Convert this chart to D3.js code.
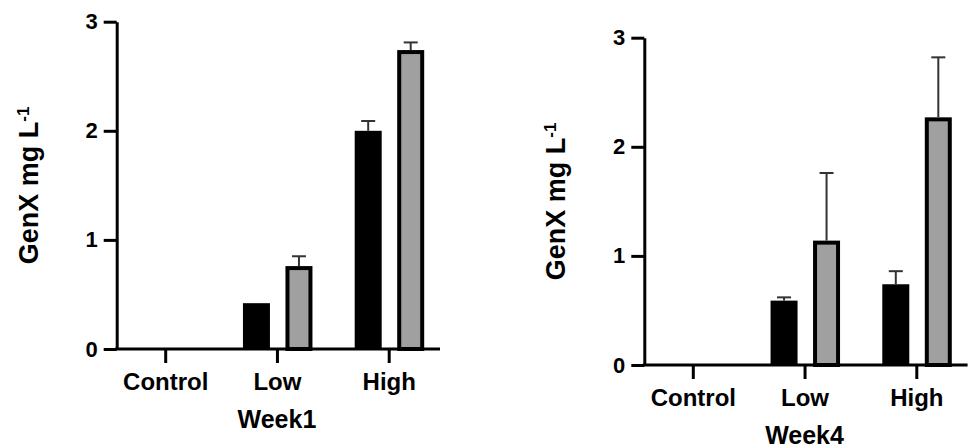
<!DOCTYPE html>
<html>
<head>
<meta charset="utf-8">
<script src="https://cdn.jsdelivr.net/npm/d3@7"></script>
<style>
  body { margin: 0; background: #fff; }
  text { font-family: "Liberation Sans", Arial, sans-serif; font-weight: bold; fill: #000; }
</style>
</head>
<body>
<svg id="chart" width="969" height="446"></svg>
<script>
var categories = ["Control", "Low", "High"];
var series = ["black", "gray"];
var yTicks = [0, 1, 2, 3];

var week1Black = [0, 0.42, 2.00];
var week1BlackErr = [0, 0, 0.09];
var week1Gray = [0, 0.76, 2.74];
var week1GrayErr = [0, 0.09, 0.07];

var week4Black = [0, 0.59, 0.74];
var week4BlackErr = [0, 0.03, 0.12];
var week4Gray = [0, 1.14, 2.27];
var week4GrayErr = [0, 0.62, 0.55];

var svg = d3.select("#chart");

var drawPanel = function(left, top, title, black, blackErr, gray, grayErr) {
  var h = 327.3, w = 323.3;

  var g = svg.append("g").attr("transform", "translate(" + left + "," + top + ")");

  var y = d3.scaleLinear().domain([0, 3]).range([h, 0]);
  var x = d3.scalePoint().domain(categories).range([48.5, 272]);
  var xs = d3.scaleBand().domain(series).range([-34, 35.5]).paddingInner(0.365);

  var rows = [];
  categories.forEach(function(c, i) {
    rows.push({ cat: c, s: "black", v: black[i], e: blackErr[i] });
    rows.push({ cat: c, s: "gray", v: gray[i], e: grayErr[i] });
  });
  rows = rows.filter(function(d) { return d.v > 0; });

  var bw = xs.bandwidth();

  // bars
  g.selectAll("rect.bar")
    .data(rows)
    .enter()
      .append("rect")
      .attr("class", "bar")
      .attr("x", function(d) { return x(d.cat) + xs(d.s) + (d.s === "gray" ? 2 : 0); })
      .attr("width", function(d) { return d.s === "gray" ? bw - 4 : bw; })
      .attr("y", function(d) { return y(d.v) + (d.s === "gray" ? 2 : 0); })
      .attr("height", function(d) { return h - y(d.v) - (d.s === "gray" ? 2 : 0); })
      .attr("fill", function(d) { return d.s === "gray" ? "#a0a0a0" : "#000"; })
      .attr("stroke", function(d) { return d.s === "gray" ? "#000" : "none"; })
      .attr("stroke-width", 4);

  // error bars (upper only)
  var errs = rows.filter(function(d) { return d.e > 0; });
  var cx = function(d) { return x(d.cat) + xs(d.s) + bw / 2; };

  g.selectAll("line.stem")
    .data(errs)
    .enter()
      .append("line")
      .attr("x1", cx).attr("x2", cx)
      .attr("y1", function(d) { return y(d.v); })
      .attr("y2", function(d) { return y(d.v + d.e); })
      .attr("stroke", "#333").attr("stroke-width", 2);

  g.selectAll("line.cap")
    .data(errs)
    .enter()
      .append("line")
      .attr("x1", function(d) { return cx(d) - 7; })
      .attr("x2", function(d) { return cx(d) + 7; })
      .attr("y1", function(d) { return y(d.v + d.e); })
      .attr("y2", function(d) { return y(d.v + d.e); })
      .attr("stroke", "#333").attr("stroke-width", 2);

  // y axis
  var yAxis = g.append("g")
    .call(d3.axisLeft(y).tickValues(yTicks).tickFormat(d3.format("d")).tickSize(13).tickSizeOuter(0).tickPadding(6));
  yAxis.selectAll("path, line").attr("stroke", "#000").attr("stroke-width", 3);
  yAxis.selectAll("text").style("font-size", "22px").attr("fill", "#000");

  // x axis
  var xAxis = g.append("g")
    .attr("transform", "translate(0," + h + ")")
    .call(d3.axisBottom(x).tickSize(14).tickPadding(10));
  xAxis.select(".domain").remove();
  xAxis.selectAll("line").attr("stroke", "#000").attr("stroke-width", 3);
  xAxis.selectAll("text").style("font-size", "24px").attr("fill", "#000");
  xAxis.append("line")
    .attr("x1", -1.5).attr("x2", w)
    .attr("stroke", "#000").attr("stroke-width", 3);

  g.append("text")
    .attr("x", x("Low"))
    .attr("y", h + 79)
    .attr("text-anchor", "middle")
    .style("font-size", "25px")
    .text(title);

  var lab = g.append("text")
    .attr("transform", "translate(-79," + (h / 2) + ") rotate(-90)")
    .attr("text-anchor", "middle")
    .style("font-size", "27px");
  lab.append("tspan").text("GenX mg L");
  lab.append("tspan").attr("baseline-shift", "super").style("font-size", "17px").text("-1");
};

drawPanel(116.7, 21.7, "Week1", week1Black, week1BlackErr, week1Gray, week1GrayErr);
drawPanel(644.3, 37.7, "Week4", week4Black, week4BlackErr, week4Gray, week4GrayErr);
</script>
</body>
</html>
